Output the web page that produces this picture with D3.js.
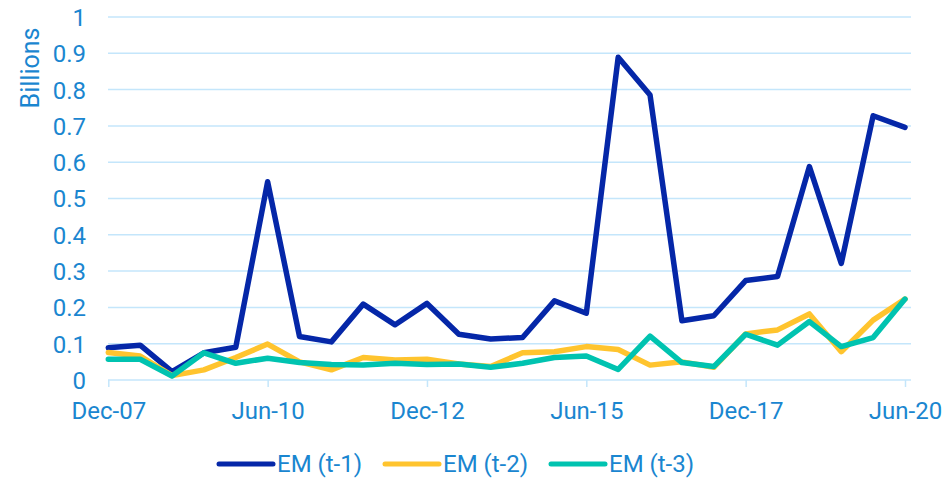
<!DOCTYPE html>
<html>
<head>
<meta charset="utf-8">
<script src="https://cdn.jsdelivr.net/npm/d3@7"></script>
<style>
  body { margin: 0; background: #fff; }
  svg { display: block; font-family: Roboto, "Noto Sans", sans-serif; }
</style>
</head>
<body>
<div id="chart"></div>
<script>
'use strict';

// half-yearly periods, Dec-07 .. Jun-20
var periods = ["Dec-07","Jun-08","Dec-08","Jun-09","Dec-09","Jun-10","Dec-10","Jun-11","Dec-11","Jun-12",
  "Dec-12","Jun-13","Dec-13","Jun-14","Dec-14","Jun-15","Dec-15","Jun-16","Dec-16","Jun-17",
  "Dec-17","Jun-18","Dec-18","Jun-19","Dec-19","Jun-20"];
var tickLabels = ["Dec-07","Jun-10","Dec-12","Jun-15","Dec-17","Jun-20"];
var yTicks = [0,0.1,0.2,0.3,0.4,0.5,0.6,0.7,0.8,0.9,1];

var emT1 = [0.089,0.096,0.023,0.075,0.090,0.546,0.120,0.105,0.209,0.152,
  0.211,0.126,0.113,0.117,0.218,0.184,0.889,0.785,0.163,0.177,
  0.274,0.285,0.588,0.321,0.728,0.696];
var emT2 = [0.076,0.066,0.012,0.028,0.062,0.099,0.050,0.028,0.062,0.055,
  0.057,0.044,0.037,0.075,0.078,0.092,0.084,0.041,0.050,0.035,
  0.127,0.138,0.182,0.078,0.165,0.223];
var emT3 = [0.057,0.057,0.011,0.075,0.046,0.060,0.048,0.043,0.041,0.046,
  0.043,0.044,0.035,0.046,0.062,0.066,0.029,0.121,0.048,0.037,
  0.126,0.096,0.161,0.092,0.117,0.223];

var seriesNames = ["EM (t-1)","EM (t-2)","EM (t-3)"];
var colors = ["#0527a8","#ffc42e","#00c3b0"];
var textColor = "#1a86d0";
var gridColor = "#c4e6fb";
var fontSize = "24px";

var W = 947, H = 478;
var svg = d3.select("#chart").append("svg").attr("width", W).attr("height", H);

var x = d3.scalePoint().domain(periods).range([108.3, 905]);
var y = d3.scaleLinear().domain([0, 1]).range([380, 17]);

// gridlines
svg.append("g").selectAll("line").data(yTicks.slice(1)).enter().append("line")
  .attr("x1", 108).attr("x2", 911)
  .attr("y1", function(d) { return y(d); }).attr("y2", function(d) { return y(d); })
  .attr("stroke", gridColor).attr("stroke-width", 1.5);

// y axis labels
var yAxis = d3.axisLeft(y).tickValues(yTicks).tickSize(0).tickPadding(0)
  .tickFormat(function(d) { return d3.format("")(+d.toFixed(1)); });
var yg = svg.append("g").attr("transform", "translate(86,0)").call(yAxis);
yg.select(".domain").remove();
yg.selectAll("text").attr("fill", textColor).style("font-size", fontSize)
  .style("font-family", "Roboto, sans-serif").attr("dy", "0.35em");

// x axis
var xAxis = d3.axisBottom(x).tickValues(tickLabels).tickSize(7).tickPadding(0);
var xg = svg.append("g").attr("transform", "translate(0,380)").call(xAxis);
xg.select(".domain").attr("d", "M108,0H911").attr("stroke", gridColor).attr("stroke-width", 1.5);
xg.selectAll(".tick line").attr("stroke", gridColor).attr("stroke-width", 1.5);
xg.selectAll("text").attr("fill", textColor).style("font-size", fontSize)
  .style("font-family", "Roboto, sans-serif").attr("y", 39).attr("dy", null);

// axis title
svg.append("text").attr("transform", "translate(39,68) rotate(-90)")
  .attr("text-anchor", "middle").attr("fill", textColor)
  .style("font-size", "25px").text("Billions");

// lines (t-1 drawn first, t-3 on top)
var line = d3.line()
  .x(function(d, i) { return x(periods[i]); })
  .y(function(d) { return y(d); });

var allSeries = [emT1, emT2, emT3];
svg.append("g").selectAll("path").data(allSeries).enter().append("path")
  .attr("d", line)
  .attr("fill", "none")
  .attr("stroke", function(d, i) { return colors[i]; })
  .attr("stroke-width", 5.5)
  .attr("stroke-linejoin", "round")
  .attr("stroke-linecap", "round");

// legend
var legendX = [219, 385, 551];
var lg = svg.append("g").selectAll("g").data(seriesNames).enter().append("g")
  .attr("transform", function(d, i) { return "translate(" + legendX[i] + ",464)"; });
lg.append("line").attr("x1", 0).attr("x2", 54).attr("y1", 0).attr("y2", 0)
  .attr("stroke", function(d, i) { return colors[i]; })
  .attr("stroke-width", 5).attr("stroke-linecap", "round");
lg.append("text").attr("x", 58).attr("dy", "0.35em").attr("fill", textColor)
  .style("font-size", fontSize).text(function(d) { return d; });
</script>
</body>
</html>
